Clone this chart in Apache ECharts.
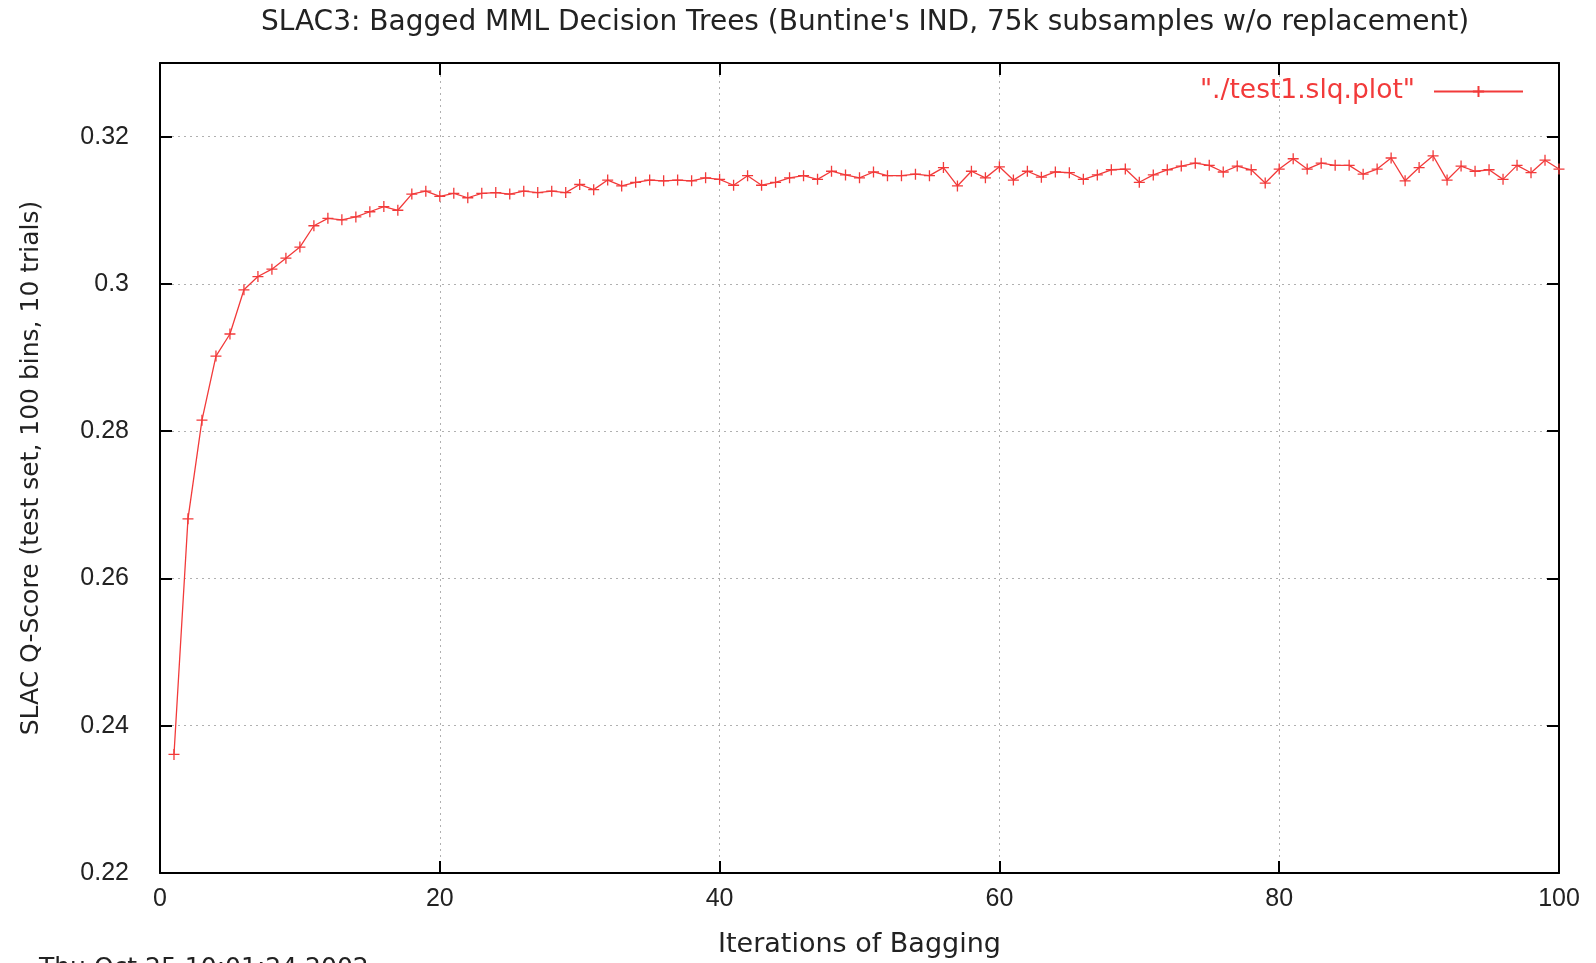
<!DOCTYPE html>
<html>
<head>
<meta charset="utf-8">
<script src="https://cdn.jsdelivr.net/npm/echarts@6/dist/echarts.min.js"></script>
<style>
html,body{margin:0;padding:0;background:#fff;}
#c{width:1596px;height:963px;}
</style>
</head>
<body>
<div id="c"></div>
<script>
const titleText = "SLAC3: Bagged MML Decision Trees (Buntine's IND, 75k subsamples w/o replacement)";
const xName = "Iterations of Bagging";
const yName = "SLAC Q-Score (test set, 100 bins, 10 trials)";
const seriesName = '"./test1.slq.plot"';
const dateText = "Thu Oct 25 10:01:24 2002";

const iterations = [];
for (let i = 1; i <= 100; i++) iterations.push(i);

const qScore = [
  0.2361, 0.2681, 0.2815, 0.2902, 0.2932, 0.2992, 0.3010, 0.3020, 0.3035, 0.3050,
  0.3079, 0.3089, 0.3087, 0.3091, 0.3098, 0.3105, 0.3100, 0.3122, 0.3126, 0.3119,
  0.3123, 0.3117, 0.3123, 0.3124, 0.3122, 0.3126, 0.3124, 0.3126, 0.3124, 0.3135,
  0.3128, 0.3141, 0.3133, 0.3138, 0.3141, 0.3140, 0.3141, 0.3140, 0.3144, 0.3142,
  0.3134, 0.3147, 0.3134, 0.3138, 0.3144, 0.3147, 0.3142, 0.3153, 0.3148, 0.3144,
  0.3152, 0.3147, 0.3147, 0.3149, 0.3147, 0.3158, 0.3133, 0.3153, 0.3144, 0.3159,
  0.3141, 0.3153, 0.3145, 0.3152, 0.3151, 0.3142, 0.3148, 0.3155, 0.3156, 0.3138,
  0.3148, 0.3155, 0.3160, 0.3164, 0.3161, 0.3152, 0.3160, 0.3155, 0.3137, 0.3156,
  0.3170, 0.3156, 0.3164, 0.3161, 0.3161, 0.3149, 0.3156, 0.3171, 0.3140, 0.3158,
  0.3174, 0.3141, 0.3160, 0.3153, 0.3155, 0.3142, 0.3161, 0.3151, 0.3168, 0.3156
];

const xMin = 0, xMax = 100, xStep = 20;
const yMin = 0.22, yMax = 0.33, yStep = 0.02;

const data = iterations.map((x, i) => [x, qScore[i]]);

const FONT = 'Liberation Sans, Arial, sans-serif';
const WFONT = 'DejaVu Sans, sans-serif';
const TXT = '#222';
const RED = '#f23a3a';
const plusPath = 'path://M0,5L10,5M5,0L5,10';

const chart = echarts.init(document.getElementById('c'));
const yFmt = v => (Math.abs(v - yMax) < 1e-9) ? '' : String(+v.toFixed(2));

const tickStyle = { show: true, inside: true, length: 12, lineStyle: { color: '#000', width: 2 } };
const lineStyleAxis = { show: true, onZero: false, lineStyle: { color: '#000', width: 2 } };

chart.setOption({
  animation: false,
  backgroundColor: '#fff',
  textStyle: { fontFamily: FONT },
  title: {
    text: titleText, left: 860, top: 4, textAlign: 'center',
    textStyle: { fontSize: 28, fontWeight: 'normal', color: TXT, fontFamily: WFONT }
  },
  grid: { left: 160, right: 37, top: 63, bottom: 88, containLabel: false },
  legend: {
    right: 72, top: 78, padding: 0, align: 'right',
    itemWidth: 89, itemHeight: 14, itemGap: 10,
    textStyle: { fontSize: 26.5, color: RED, fontFamily: WFONT, padding: [0, 14, 0, 0] },
    data: [seriesName]
  },
  xAxis: [{
    type: 'value', min: xMin, max: xMax, interval: xStep, position: 'bottom',
    name: xName, nameLocation: 'middle', nameGap: 58,
    nameTextStyle: { fontSize: 27, color: TXT, fontFamily: WFONT },
    axisLine: lineStyleAxis,
    axisTick: tickStyle,
    axisLabel: { fontSize: 25, color: TXT, margin: 14, fontFamily: FONT },
    splitLine: { show: true, lineStyle: { color: '#b0b0b0', type: [2, 4], width: 1 } }
  }, {
    type: 'value', min: xMin, max: xMax, interval: xStep, position: 'top',
    axisLine: lineStyleAxis,
    axisTick: tickStyle,
    axisLabel: { show: false }, splitLine: { show: false }
  }],
  yAxis: [{
    type: 'value', min: yMin, max: yMax, interval: yStep, position: 'left',
    name: yName, nameLocation: 'middle', nameGap: 116,
    nameTextStyle: { fontSize: 25, color: TXT, fontFamily: WFONT },
    axisLine: lineStyleAxis,
    axisTick: tickStyle,
    axisLabel: { fontSize: 25, color: TXT, margin: 31, fontFamily: FONT, formatter: yFmt },
    splitLine: { show: true, lineStyle: { color: '#b0b0b0', type: [2, 4], width: 1 } }
  }, {
    type: 'value', min: yMin, max: yMax, interval: yStep, position: 'right',
    axisLine: lineStyleAxis,
    axisTick: tickStyle,
    axisLabel: { show: false }, splitLine: { show: false }
  }],
  graphic: [{
    type: 'text', left: 39, top: 956,
    style: { text: dateText, fontSize: 25, fill: TXT, fontFamily: WFONT }
  }],
  series: [{
    name: seriesName, type: 'line', data: data,
    xAxisIndex: 0, yAxisIndex: 0,
    symbol: plusPath, symbolSize: 11, showAllSymbol: true,
    lineStyle: { color: RED, width: 1.3 },
    itemStyle: { color: 'none', borderColor: RED, borderWidth: 1.3 },
    emphasis: { disabled: true }
  }]
});
</script>
</body>
</html>
